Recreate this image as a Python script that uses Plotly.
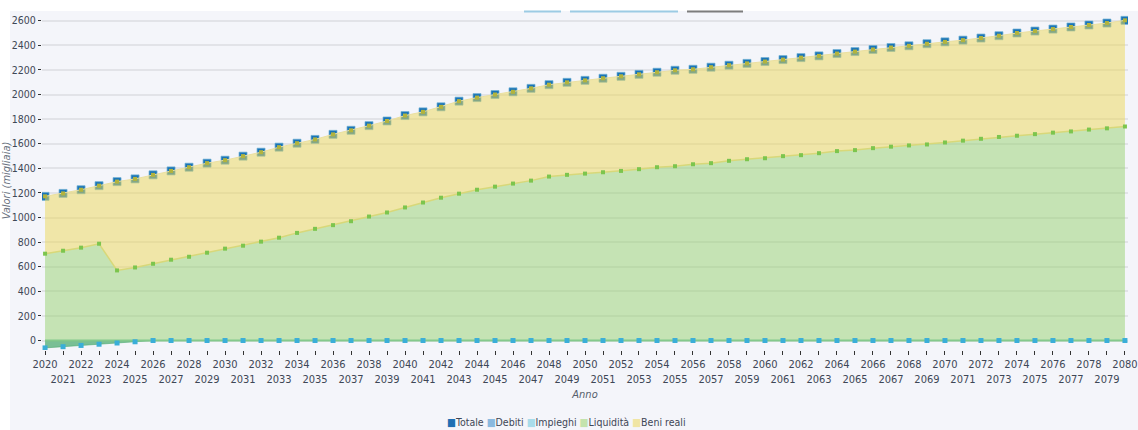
import plotly.graph_objects as go

years = list(range(2020, 2081))

totale = [1172, 1196, 1226, 1259, 1292, 1314, 1347, 1379, 1409, 1442,
          1466, 1499, 1531, 1572, 1604, 1635, 1676, 1709, 1747, 1785,
          1829, 1859, 1900, 1946, 1975, 2000, 2022, 2050, 2080, 2099,
          2115, 2132, 2148, 2164, 2181, 2197, 2205, 2222, 2238, 2253,
          2268, 2284, 2300, 2314, 2333, 2349, 2366, 2382, 2396, 2413,
          2428, 2442, 2459, 2478, 2500, 2516, 2532, 2549, 2565, 2581,
          2603]

liquidita = [706, 730, 755, 787, 570, 594, 624, 657, 681, 714,
             747, 771, 804, 836, 875, 908, 938, 970, 1008, 1041,
             1082, 1122, 1161, 1194, 1226, 1251, 1276, 1300, 1333, 1347,
             1357, 1368, 1379, 1393, 1409, 1417, 1433, 1442, 1461, 1474,
             1482, 1499, 1507, 1523, 1540, 1548, 1564, 1576, 1586, 1594,
             1610, 1625, 1640, 1655, 1665, 1678, 1690, 1700, 1715, 1725,
             1740]

beni_reali = [466, 466, 471, 472, 722, 720, 723, 722, 728, 728,
              719, 728, 727, 736, 729, 727, 738, 739, 739, 744,
              747, 737, 739, 752, 749, 749, 746, 750, 747, 752,
              758, 764, 769, 771, 772, 780, 772, 780, 777, 779,
              786, 785, 793, 791, 793, 801, 802, 806, 810, 819,
              818, 817, 819, 823, 835, 838, 842, 849, 850, 856,
              863]

debiti = [-60, -50, -40, -30, -20, -10, 0, 0, 0, 0,
          0, 0, 0, 0, 0, 0, 0, 0, 0, 0,
          0, 0, 0, 0, 0, 0, 0, 0, 0, 0,
          0, 0, 0, 0, 0, 0, 0, 0, 0, 0,
          0, 0, 0, 0, 0, 0, 0, 0, 0, 0,
          0, 0, 0, 0, 0, 0, 0, 0, 0, 0,
          0]

impieghi = [0, 0, 0, 0, 0, 0, 0, 0, 0, 0,
            0, 0, 0, 0, 0, 0, 0, 0, 0, 0,
            0, 0, 0, 0, 0, 0, 0, 0, 0, 0,
            0, 0, 0, 0, 0, 0, 0, 0, 0, 0,
            0, 0, 0, 0, 0, 0, 0, 0, 0, 0,
            0, 0, 0, 0, 0, 0, 0, 0, 0, 0,
            0]

series_names = ["Totale", "Debiti", "Impieghi", "Liquidità", "Beni reali"]
legend_colors = ["#1f6fb3", "#8ab9df", "#a9dcea", "#c4e3ad", "#f0e5a4"]

tick_text = [str(y) if y % 2 == 0 else "<br>" + str(y) for y in years]

FONT = "DejaVu Sans Condensed, Liberation Sans Narrow, Roboto, sans-serif"

fig = go.Figure()

# Totale markers (drawn first, partly tinted by the stacked fill)
fig.add_trace(go.Scatter(
    x=years, y=totale, name="Totale", mode="markers",
    marker=dict(symbol="square", size=8, color="#1a74b8",
                line=dict(width=1, color="rgba(110,175,210,0.7)")),
    showlegend=False))

# Debiti (negative area)
fig.add_trace(go.Scatter(
    x=years, y=debiti, name="Debiti", mode="lines",
    fill="tozeroy", fillcolor="rgba(80,172,115,0.75)",
    line=dict(color="rgba(80,172,115,0.6)", width=1),
    showlegend=False))

# Liquidità + Beni reali stacked
fig.add_trace(go.Scatter(
    x=years, y=liquidita, name="Liquidità", mode="lines+markers",
    stackgroup="attivo", fillcolor="rgba(150,210,110,0.5)",
    line=dict(color="#d8d879", width=1.5),
    marker=dict(symbol="square", size=4, color="#7cc54e"),
    showlegend=False))
fig.add_trace(go.Scatter(
    x=years, y=beni_reali, name="Beni reali", mode="lines+markers",
    stackgroup="attivo", fillcolor="rgba(236,215,86,0.5)",
    line=dict(color="#ebe0a0", width=1),
    marker=dict(symbol="square", size=4, color="#b3b43c"),
    showlegend=False))

# Impieghi line along zero
fig.add_trace(go.Scatter(
    x=years, y=impieghi, name="Impieghi", mode="lines",
    line=dict(color="#84c98c", width=2),
    showlegend=False))
# Debiti markers
fig.add_trace(go.Scatter(
    x=years, y=debiti, name="Debiti", mode="markers",
    marker=dict(symbol="square", size=5, color="#3aaed8"),
    showlegend=False))

legend_text = "&nbsp;".join(
    f'<span style="color:{c}">■</span>{n}' for n, c in zip(series_names, legend_colors))

W, H = 1138, 430
L, R, T, B = 42, 10, 11, 80
pw = W - L - R
ph = H - T - B

def px(xp):
    return (xp - L) / pw

def py(yp):
    return (H - B - yp) / ph

shapes = [
    # white strips (top and left) outside the grey card
    dict(type="rect", xref="paper", yref="paper", x0=px(-5), x1=px(W + 5), y0=py(11), y1=py(-5),
         fillcolor="white", line=dict(width=0), layer="below"),
    dict(type="rect", xref="paper", yref="paper", x0=px(-5), x1=px(10), y0=py(H + 5), y1=py(-5),
         fillcolor="white", line=dict(width=0), layer="below"),
    # cut-off tab underlines at the top
    dict(type="line", xref="paper", yref="paper", x0=px(524), x1=px(561), y0=py(11.5), y1=py(11.5),
         line=dict(color="#9ccbe4", width=2)),
    dict(type="line", xref="paper", yref="paper", x0=px(570), x1=px(678), y0=py(11.5), y1=py(11.5),
         line=dict(color="#9ccbe4", width=2)),
    dict(type="line", xref="paper", yref="paper", x0=px(687), x1=px(743), y0=py(11.5), y1=py(11.5),
         line=dict(color="#7d7d7d", width=2)),
]

fig.update_layout(
    width=W, height=H,
    margin=dict(l=L, r=R, t=T, b=B, autoexpand=False),
    paper_bgcolor="#f4f5fa",
    plot_bgcolor="rgba(0,0,0,0)",
    font=dict(family=FONT, size=11, color="#3e4756"),
    showlegend=False,
    shapes=shapes,
    annotations=[dict(
        text=legend_text, xref="paper", yref="paper",
        x=px(566), y=py(414), xanchor="center", yanchor="top",
        showarrow=False, font=dict(family=FONT, size=10.5, color="#3e4756"))],
    xaxis=dict(
        range=[2019.83, 2080.17], tickmode="array", tickvals=years, ticktext=tick_text,
        tickangle=0,
        ticks="outside", ticklen=4, tickcolor="#333", tickwidth=1,
        showgrid=False, zeroline=False, showline=False,
        tickfont=dict(family=FONT, size=11, color="#3e4756"),
        title=dict(text="<i>Anno</i>", standoff=5,
                   font=dict(family=FONT, size=11, color="#555e6c")),
    ),
    yaxis=dict(
        range=[-77, 2679], dtick=200, tick0=0,
        ticks="outside", ticklen=3, tickcolor="#333", tickwidth=1,
        showgrid=True, gridcolor="#e2e3e8", gridwidth=2,
        zeroline=False, showline=False,
        tickfont=dict(family=FONT, size=10.5, color="#3e4756"),
        title=dict(text="<i>Valori (migliaia)</i>", standoff=0,
                   font=dict(family=FONT, size=11, color="#6a7280")),
    ),
)

fig.write_html("out.html", config={"displayModeBar": False},
               post_script="document.body.style.margin='0';")
